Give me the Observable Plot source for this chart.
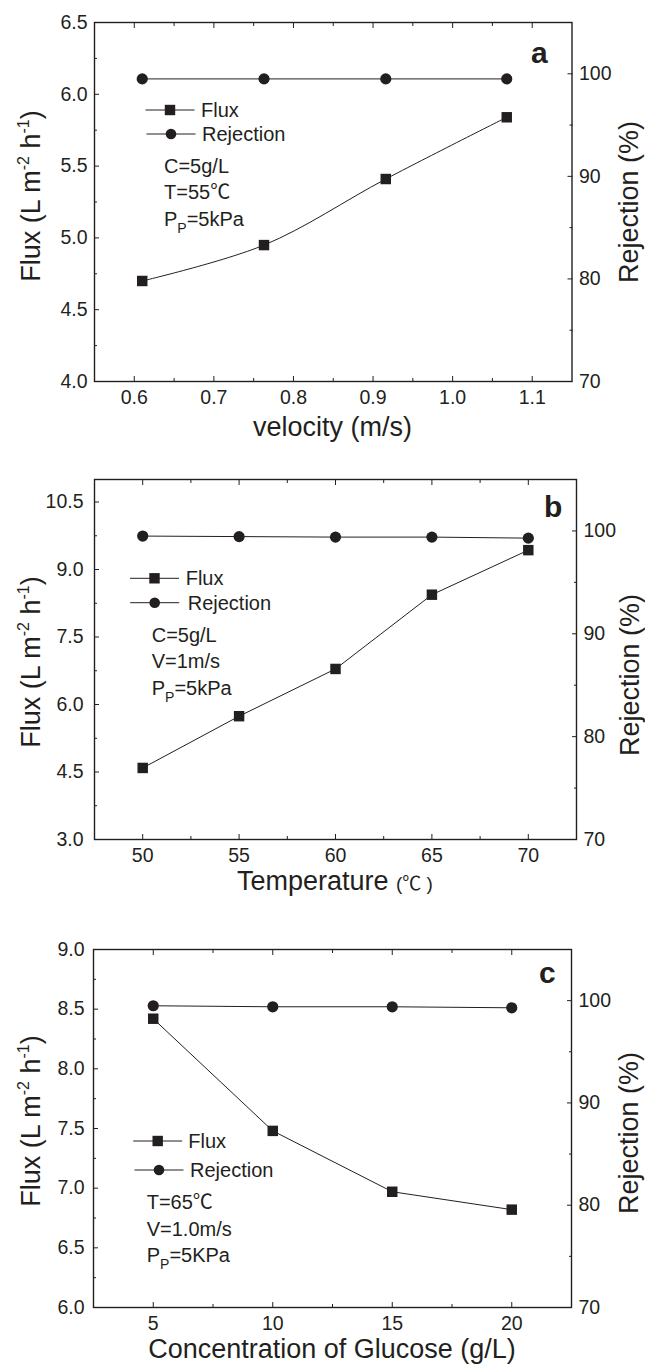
<!DOCTYPE html>
<html><head><meta charset="utf-8">
<script src="https://cdn.jsdelivr.net/npm/d3@7"></script>
<script src="https://cdn.jsdelivr.net/npm/@observablehq/plot@0.6"></script>
<style>
body{margin:0;background:#fff;}
#chart svg{display:block;}
</style></head><body><div id="chart"></div>
<script>
// ---- data ----
const velocity = [0.61, 0.763, 0.916, 1.068];
const fluxA = [4.70, 4.95, 5.41, 5.84];
const rejA = [99.5, 99.5, 99.5, 99.5];

const temperature = [50, 55, 60, 65, 70];
const fluxB = [4.59, 5.74, 6.79, 8.44, 9.43];
const rejB = [99.5, 99.45, 99.4, 99.4, 99.3];

const glucose = [5, 10, 15, 20];
const fluxC = [8.42, 7.48, 6.97, 6.82];
const rejC = [99.5, 99.4, 99.4, 99.3];

const xTicksA = [0.6, 0.7, 0.8, 0.9, 1.0, 1.1];
const xMinorA = [0.65, 0.75, 0.85, 0.95, 1.05];
const yTicksA = [4.0, 4.5, 5.0, 5.5, 6.0, 6.5];
const yMinorA = [4.25, 4.75, 5.25, 5.75, 6.25];

const xTicksB = [50, 55, 60, 65, 70];
const xMinorB = [52.5, 57.5, 62.5, 67.5];
const yTicksB = [3.0, 4.5, 6.0, 7.5, 9.0, 10.5];
const yMinorB = [3.75, 5.25, 6.75, 8.25, 9.75];

const xTicksC = [5, 10, 15, 20];
const xMinorC = [7.5, 12.5, 17.5];
const yTicksC = [6.0, 6.5, 7.0, 7.5, 8.0, 8.5, 9.0];
const yMinorC = [6.25, 6.75, 7.25, 7.75, 8.25, 8.75];

const rejTicks = [70, 80, 90, 100];
const rejMinor = [75, 85, 95];
const rejDomain = [70, 105];

const FONT = '"Liberation Sans", Arial, Helvetica, "Noto Sans CJK SC", sans-serif';
const INK = "#231f20";

function panel(cfg) {
  const [f0, f1] = cfg.yDomain;
  const toY = r => f0 + (r - rejDomain[0]) / (rejDomain[1] - rejDomain[0]) * (f1 - f0);
  const fromY = y => Math.round(rejDomain[0] + (y - f0) / (f1 - f0) * (rejDomain[1] - rejDomain[0]));
  const fluxData = cfg.x.map((v, i) => ({x: v, y: cfg.flux[i]}));
  const rejData = cfg.x.map((v, i) => ({x: v, y: toY(cfg.rej[i])}));
  const none = () => "";
  const svg = Plot.plot({
    width: 645, height: cfg.height,
    marginLeft: cfg.ml, marginRight: cfg.mr, marginTop: cfg.mt, marginBottom: cfg.mb,
    x: {domain: cfg.xDomain}, y: {domain: cfg.yDomain},
    style: {fontFamily: FONT, color: INK, background: "#fff", overflow: "visible"},
    marks: [
      Plot.axisX(cfg.xTicks, {tickSize: -5, tickPadding: 14, tickFormat: cfg.xFormat, fontSize: 19.5, label: null}),
      Plot.axisX(cfg.xMinor, {tickSize: -3, tickFormat: none, label: null}),
      Plot.axisX(cfg.xTicks, {anchor: "top", tickSize: -5, tickFormat: none, label: null}),
      Plot.axisX(cfg.xMinor, {anchor: "top", tickSize: -3, tickFormat: none, label: null}),
      Plot.axisY(cfg.yTicks, {tickSize: -5, tickPadding: cfg.yPad, tickFormat: d3.format(".1f"), fontSize: 19.5, label: null}),
      Plot.axisY(cfg.yMinor, {tickSize: -3, tickFormat: none, label: null}),
      Plot.axisY(rejTicks.map(toY), {anchor: "right", tickSize: -5, tickPadding: 12, tickFormat: fromY, fontSize: 19.5, label: null}),
      Plot.axisY(rejMinor.map(toY), {anchor: "right", tickSize: -3, tickFormat: none, label: null}),
      Plot.frame({stroke: INK, strokeWidth: 1.4}),
      Plot.line(rejData, {x: "x", y: "y", stroke: INK, strokeWidth: 1}),
      Plot.line(fluxData, {x: "x", y: "y", curve: cfg.curve, stroke: INK, strokeWidth: 1}),
      Plot.dot(rejData, {x: "x", y: "y", r: 5.6, fill: INK}),
      Plot.dot(fluxData, {x: "x", y: "y", symbol: "square", r: 5.9, fill: INK})
    ]
  });
  const s = d3.select(svg);
  const g = s.append("g").attr("font-family", FONT).attr("fill", INK).attr("text-anchor", "start");

  // Y title (flux)
  const ft = g.append("text").attr("text-anchor", "middle").attr("font-size", 27)
    .attr("transform", `translate(${cfg.fluxTitle[0]},${cfg.fluxTitle[1]}) rotate(-90)`);
  ft.append("tspan").text("Flux (L m");
  ft.append("tspan").attr("dy", -11).attr("font-size", 16).text("-2");
  ft.append("tspan").attr("dy", 11).text(" h");
  ft.append("tspan").attr("dy", -11).attr("font-size", 16).text("-1");
  ft.append("tspan").attr("dy", 11).text(")");

  // right title
  g.append("text").attr("text-anchor", "middle").attr("font-size", 27)
    .attr("transform", `translate(${cfg.rejTitle[0]},${cfg.rejTitle[1]}) rotate(-90)`)
    .text("Rejection (%)");

  // x title
  const xt = g.append("text").attr("text-anchor", "middle").attr("font-size", 27)
    .attr("x", cfg.xTitle[0]).attr("y", cfg.xTitle[1]);
  xt.append("tspan").text(cfg.xLabel);
  if (cfg.xLabelSmall) xt.append("tspan").attr("font-size", 19).text(cfg.xLabelSmall);

  // panel letter
  g.append("text").attr("x", cfg.letter[0]).attr("y", cfg.letter[1])
    .attr("font-size", 30).attr("font-weight", "bold").text(cfg.letterText);

  // legend
  const L = cfg.legend;
  [[L.flux, "square", "Flux"], [L.rej, "circle", "Rejection"]].forEach(([p, shape, label]) => {
    const [cx, cy, tx] = p;
    g.append("line").attr("x1", cx - 24.5).attr("x2", cx + 24.5).attr("y1", cy).attr("y2", cy)
      .attr("stroke", INK).attr("stroke-width", 1);
    if (shape === "square") g.append("rect").attr("x", cx - 5.2).attr("y", cy - 5.2).attr("width", 10.4).attr("height", 10.4);
    else g.append("circle").attr("cx", cx).attr("cy", cy).attr("r", 5.3);
    g.append("text").attr("x", tx).attr("y", cy + 6.8).attr("font-size", 20).text(label);
  });

  // conditions
  cfg.notes.forEach((n, i) => {
    const t = g.append("text").attr("x", L.noteX).attr("y", L.noteY + i * 26.4).attr("font-size", 20);
    if (n.startsWith("PP")) {
      t.append("tspan").text("P");
      t.append("tspan").attr("dy", 7).attr("font-size", 14).text("P");
      t.append("tspan").attr("dy", -7).text(n.slice(2));
    } else t.text(n);
  });
  return svg;
}

const chart = document.getElementById("chart");

chart.appendChild(panel({
  height: 455, ml: 94, mr: 73.5, mt: 22, mb: 74,
  x: velocity, flux: fluxA, rej: rejA,
  xDomain: [0.55, 1.15], yDomain: [4.0, 6.5],
  xTicks: xTicksA, xMinor: xMinorA, yTicks: yTicksA, yMinor: yMinorA,
  xFormat: d3.format(".1f"), yPad: 12, curve: "catmull-rom",
  fluxTitle: [40, 196], rejTitle: [638, 202], xTitle: [332.6, 436],
  xLabel: "velocity (m/s)",
  letter: [531, 63], letterText: "a",
  legend: {flux: [170, 110, 201], rej: [171, 134, 202], noteX: 164, noteY: 172.7},
  notes: ["C=5g/L", "T=55\u2103", "PP=5kPa"]
}));

chart.appendChild(panel({
  height: 455, ml: 94, mr: 69, mt: 24, mb: 71,
  x: temperature, flux: fluxB, rej: rejB,
  xDomain: [47.5, 72.5], yDomain: [3.0, 11.0],
  xTicks: xTicksB, xMinor: xMinorB, yTicks: yTicksB, yMinor: yMinorB,
  xFormat: d3.format("d"), yPad: 16, curve: "linear",
  fluxTitle: [40, 207], rejTitle: [639, 220], xTitle: [334.9, 435],
  xLabel: "Temperature ", xLabelSmall: "(\u2103 )",
  letter: [544, 62], letterText: "b",
  legend: {flux: [154.5, 123.3, 185.7], rej: [154.7, 147.7, 187.7], noteX: 151.7, noteY: 186.7},
  notes: ["C=5g/L", "V=1m/s", "PP=5kPa"]
}));

chart.appendChild(panel({
  height: 454, ml: 93, mr: 74, mt: 39, mb: 57,
  x: glucose, flux: fluxC, rej: rejC,
  xDomain: [2.5, 22.5], yDomain: [6.0, 9.0],
  xTicks: xTicksC, xMinor: xMinorC, yTicks: yTicksC, yMinor: yMinorC,
  xFormat: d3.format("d"), yPad: 14, curve: "linear",
  fluxTitle: [40, 211], rejTitle: [638, 223], xTitle: [332, 448],
  xLabel: "Concentration of Glucose (g/L)",
  letter: [539, 73], letterText: "c",
  legend: {flux: [157.7, 231, 188.3], rej: [159, 260, 190], noteX: 146.7, noteY: 299.3},
  notes: ["T=65\u2103", "V=1.0m/s", "PP=5KPa"]
}));
</script></body></html>
